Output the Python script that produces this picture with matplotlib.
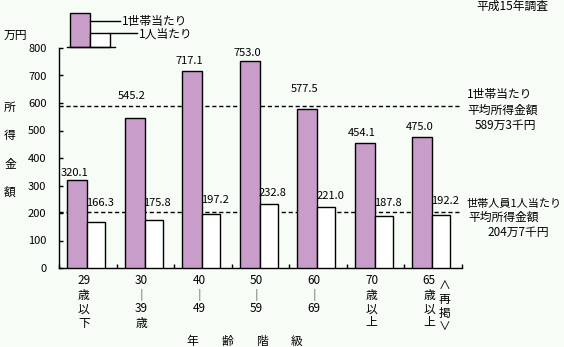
import matplotlib.pyplot as plt
from matplotlib.patches import Rectangle
from matplotlib.lines import Line2D

plt.rcParams['font.family'] = ['Noto Sans CJK JP', 'DejaVu Sans']

# 年齢階級別の所得金額（万円）
age_groups = ["29\n歳\n以\n下", "30\n│\n39\n歳", "40\n│\n49", "50\n│\n59",
              "60\n│\n69", "70\n歳\n以\n上", "65\n歳\n以\n上"]
per_household = [320.1, 545.2, 717.1, 753.0, 577.5, 454.1, 475.0]
per_person = [166.3, 175.8, 197.2, 232.8, 221.0, 187.8, 192.2]
avg_household = 589.3
avg_person = 204.7
y_ticks = [0, 100, 200, 300, 400, 500, 600, 700, 800]

# 数値ラベルの位置（棒の上端からのピクセル）
hh_label_gap = [7, 22, 10, 8, 20, 10, 10]
pp_label_gap = [19, 17, 14, 11, 11, 13, 14]

W, H = 564, 347
bg = '#f7fcf7'
purple = '#c99dc9'
fs = 8      # 数字
fj = 8.5    # 日本語

fig = plt.figure(figsize=(W / 100, H / 100), dpi=100, facecolor=bg)
ax = fig.add_axes([59 / W, 1 - 268 / H, (462 - 59) / W, 220 / H])
ax.set_facecolor(bg)


def fpos(x, y):
    return x / W, 1 - y / H


n = len(per_household)
for i in range(n):
    ax.bar(i + 0.139, per_household[i], width=0.347, align='edge',
           color=purple, edgecolor='black', linewidth=1, zorder=3)
    ax.bar(i + 0.486, per_person[i], width=0.312, align='edge',
           color='white', edgecolor='black', linewidth=1, zorder=3)
    ax.annotate(f"{per_household[i]:.1f}", (i + 0.486, per_household[i]),
                xytext=(1, hh_label_gap[i]), textcoords='offset pixels',
                ha='right', va='center', fontsize=fs, zorder=4)
    ax.annotate(f"{per_person[i]:.1f}", (i + 0.486, per_person[i]),
                xytext=(-1, pp_label_gap[i]), textcoords='offset pixels',
                ha='left', va='center', fontsize=fs, zorder=4)

# 平均値の破線
for v in (avg_household, avg_person):
    ax.plot([0, n], [v, v], color='black', lw=1, ls=(0, (3, 2)), zorder=2)

ax.set_xlim(0, n)
ax.set_ylim(0, 800)
ax.set_yticks(y_ticks)
ax.set_xticks(range(n + 1))
ax.set_xticklabels([])
ax.tick_params(direction='in', length=3, width=1, labelsize=fs, pad=8)
ax.tick_params(axis='y', pad=9)
for s in ('top', 'right'):
    ax.spines[s].set_visible(False)
for s in ('left', 'bottom'):
    ax.spines[s].set_linewidth(1)

# 年齢階級のラベル（縦書き）
tr = ax.get_xaxis_transform()
for i, lab in enumerate(age_groups):
    for k, ch in enumerate(lab.split("\n")):
        ax.text(i + 0.43, -(13 + 14 * k) / 220, ch, transform=tr,
                ha='center', va='center', fontsize=fj, clip_on=False)
for k, ch in enumerate(["∧", "再", "掲", "∨"]):
    ax.text(6.69, -(17 + 14 * k) / 220, ch, transform=tr,
            ha='center', va='center', fontsize=fj, clip_on=False)

for k, ch in enumerate("年齢階級"):
    fig.text(*fpos(192 + 35 * k, 341), ch, ha='center', va='center', fontsize=fj)

for k, ch in enumerate("所得金額"):
    fig.text(*fpos(10, 107 + 28.5 * k), ch, ha='center', va='center', fontsize=fj)

fig.text(*fpos(4, 35), "万円", ha='left', va='center', fontsize=fj)
fig.text(*fpos(548, 6), "平成15年調査", ha='right', va='center', fontsize=fj)

# 凡例
fig.patches.append(Rectangle(fpos(70, 47), 20 / W, 34 / H, transform=fig.transFigure,
                             facecolor=purple, edgecolor='black', lw=1))
fig.patches.append(Rectangle(fpos(90, 47), 20 / W, 14 / H, transform=fig.transFigure,
                             facecolor='white', edgecolor='black', lw=1))
for xs, ys in [((67, 115), (47, 47)), ((90, 120), (21, 21)), ((110, 137), (33, 33))]:
    fig.lines.append(Line2D([x / W for x in xs], [1 - y / H for y in ys],
                            transform=fig.transFigure, color='black', lw=1))
fig.text(*fpos(122, 21), "1世帯当たり", ha='left', va='center', fontsize=fj)
fig.text(*fpos(139, 34), "1人当たり", ha='left', va='center', fontsize=fj)

# 平均所得金額の注記
fig.text(*fpos(467, 95), "1世帯当たり", ha='left', va='center', fontsize=fj)
fig.text(*fpos(467, 110), "平均所得金額", ha='left', va='center', fontsize=fj)
fig.text(*fpos(475, 125), f"{int(avg_household)}万{round(avg_household % 1 * 10)}千円",
         ha='left', va='center', fontsize=fj)
fig.text(*fpos(466, 204), "世帯人員1人当たり", ha='left', va='center', fontsize=8)
fig.text(*fpos(468, 217), "平均所得金額", ha='left', va='center', fontsize=fj)
fig.text(*fpos(487, 232), f"{int(avg_person)}万{round(avg_person % 1 * 10)}千円",
         ha='left', va='center', fontsize=fj)

fig.savefig("out.png", dpi=100, facecolor=bg)
